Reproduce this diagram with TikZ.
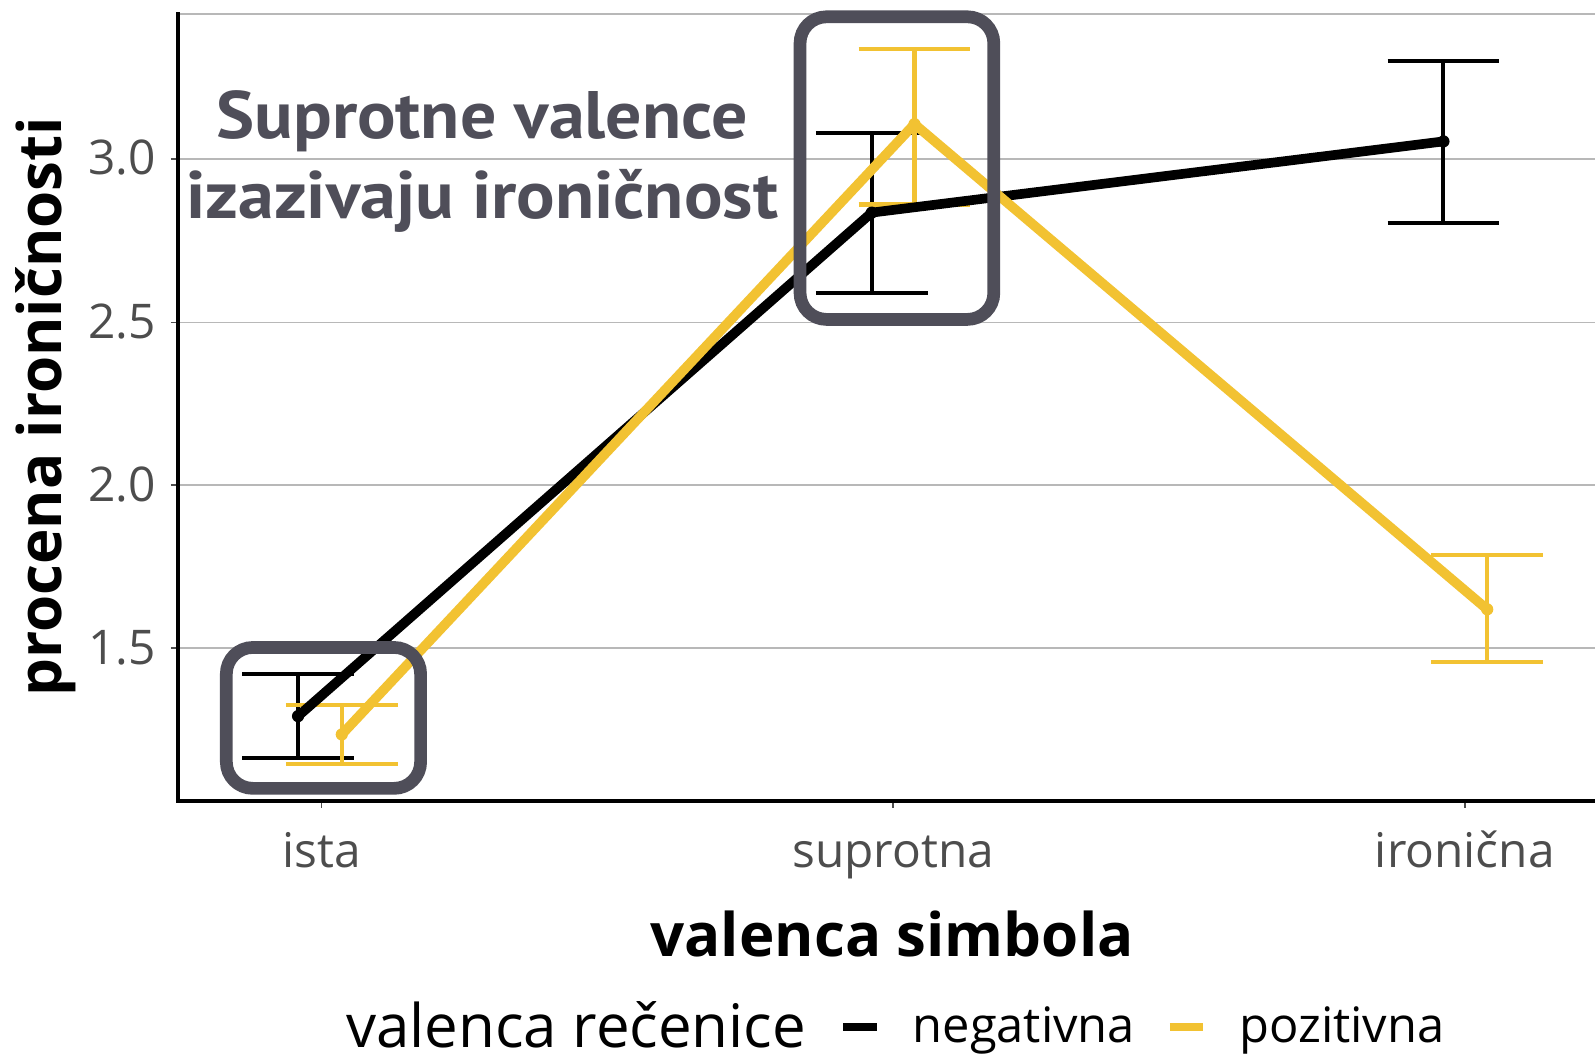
\documentclass[tikz,border=0pt]{standalone}
\usepackage{fontspec}
\setmainfont{Open Sans}
\newfontfamily\annotfont{PT Sans}
\definecolor{ylw}{HTML}{F2C232}
\definecolor{boxc}{HTML}{4F4E59}
\definecolor{tickc}{HTML}{4D4D4D}
\definecolor{gridc}{HTML}{B8B8B8}
\begin{document}
\begin{tikzpicture}[x=1pt,y=-1pt,
  gridln/.style={gridc, line width=1.6pt},
  axisln/.style={black, line width=4pt},
  tickln/.style={tickc, line width=1.6pt},
  errb/.style={line width=4pt},
  dline/.style={line width=9.5pt, line join=round, line cap=round},
  hlbox/.style={draw=boxc, line width=12.5pt, rounded corners=26pt},
  ticklab/.style={inner sep=0pt, text=tickc, font=\fontsize{47}{50}\selectfont},
  axtitle/.style={inner sep=0pt, font=\fontsize{59}{64}\selectfont\bfseries},
  legtext/.style={inner sep=0pt, text depth=0pt, font=\fontsize{48}{52}\selectfont},
  annot/.style={inner sep=0pt, text=boxc, xscale=1.07, font=\fontsize{66}{70}\selectfont\annotfont\bfseries}
]
\path[use as bounding box, fill=white] (0,0) rectangle (1568,1037);

% grid
\foreach \yy/\nm in {14/top,156/g30,317/g25,477/g20,637/g15}{
  \coordinate (\nm L) at (175,\yy);
  \coordinate (\nm R) at (1568,\yy);
  \draw[gridln] (\nm L) -- (\nm R);
}
% axis ticks
\foreach \yy/\nm in {156/t30,317/t25,477/t20,637/t15}{
  \coordinate (\nm a) at (168,\yy); \coordinate (\nm b) at (175,\yy);
  \draw[tickln] (\nm a) -- (\nm b);
}
\foreach \xx/\nm in {316/xa,878/xb,1440/xc}{
  \coordinate (\nm a) at (\xx,787); \coordinate (\nm b) at (\xx,794);
  \draw[tickln] (\nm a) -- (\nm b);
}
% axes
\coordinate (yaxT) at (175,12);
\coordinate (orig) at (175,787);
\coordinate (xaxR) at (1568,787);
\draw[axisln] (yaxT) -- (orig) -- (xaxR);

% error bars: black
\foreach \xx/\ta/\tb/\nm in {293/663/745/ea,857/131/288/eb,1419/60/219/ec}{
  \coordinate (\nm t) at (\xx,\ta); \coordinate (\nm b) at (\xx,\tb);
  \coordinate (\nm tl) at (\xx-55,\ta); \coordinate (\nm tr) at (\xx+55,\ta);
  \coordinate (\nm bl) at (\xx-55,\tb); \coordinate (\nm br) at (\xx+55,\tb);
  \draw[errb,black] (\nm t) -- (\nm b) (\nm tl) -- (\nm tr) (\nm bl) -- (\nm br);
}
% error bars: yellow
\foreach \xx/\ta/\tb/\nm in {336/693/751/fa,899/48/201/fb,1462/546/651/fc}{
  \coordinate (\nm t) at (\xx,\ta); \coordinate (\nm b) at (\xx,\tb);
  \coordinate (\nm tl) at (\xx-55,\ta); \coordinate (\nm tr) at (\xx+55,\ta);
  \coordinate (\nm bl) at (\xx-55,\tb); \coordinate (\nm br) at (\xx+55,\tb);
  \draw[errb,ylw] (\nm t) -- (\nm b) (\nm tl) -- (\nm tr) (\nm bl) -- (\nm br);
}
% data points
\coordinate (n1) at (293,704);
\coordinate (n2) at (857,209);
\coordinate (n3) at (1419,139);
\coordinate (p1) at (336,722);
\coordinate (p2) at (899,122);
\coordinate (p3) at (1462,599);
\draw[dline,black] (n1) -- (n2) -- (n3);
\draw[dline,ylw] (p1) -- (p2) -- (p3);
\foreach \c in {n1,n2,n3}{\fill[black] (\c) circle (6);}
\foreach \c in {p1,p2,p3}{\fill[ylw] (\c) circle (6);}

% highlight boxes
\draw[hlbox] (222.5,636.5) rectangle (413.5,775);
\draw[hlbox] (786.5,16.5) rectangle (977,314);

% annotation
\node[annot, anchor=base] (an1) at (474,136) {Suprotne valence};
\node[annot, anchor=base] (an2) at (474,215) {izazivaju ironičnost};

% tick labels
\node[ticklab, anchor=base east] (l30) at (153,172) {3.0};
\node[ticklab, anchor=base east] (l25) at (153,333) {2.5};
\node[ticklab, anchor=base east] (l20) at (153,493) {2.0};
\node[ticklab, anchor=base east] (l15) at (153,653) {1.5};
\node[ticklab, anchor=base] (lx1) at (316,853) {ista};
\node[ticklab, anchor=base] (lx2) at (878,853) {suprotna};
\node[ticklab, anchor=base] (lx3) at (1440,853) {ironična};

% axis titles
\node[axtitle, anchor=base] (xt) at (877,940) {valenca simbola};
\node[axtitle, anchor=base, rotate=90] (yt) at (60,400) {procena ironičnosti};

% legend
\node[legtext, anchor=base west, font=\fontsize{59}{62}\selectfont] (lgt) at (340,1030) {valenca rečenice};
\coordinate (k1a) at (829,1010); \coordinate (k1b) at (862,1010);
\coordinate (k2a) at (1150,1010); \coordinate (k2b) at (1183,1010);
\draw[line width=8pt, black] (k1a) -- (k1b);
\draw[line width=8pt, ylw] (k2a) -- (k2b);
\node[legtext, anchor=base west] (lg1) at (897,1025) {negativna};
\node[legtext, anchor=base west] (lg2) at (1218,1025) {pozitivna};
\end{tikzpicture}
\end{document}
